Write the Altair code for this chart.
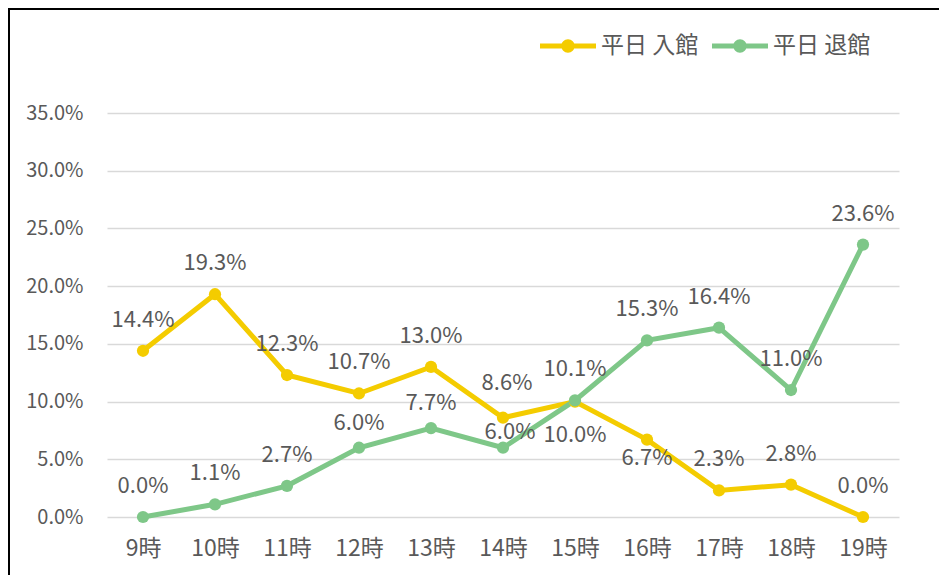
import altair as alt
import pandas as pd

times = ["9時", "10時", "11時", "12時", "13時", "14時", "15時", "16時", "17時", "18時", "19時"]
series_names = ["平日 入館", "平日 退館"]
entry = [0.144, 0.193, 0.123, 0.107, 0.130, 0.086, 0.100, 0.067, 0.023, 0.028, 0.000]
leave = [0.000, 0.011, 0.027, 0.060, 0.077, 0.060, 0.101, 0.153, 0.164, 0.110, 0.236]
y_ticks = [0, 0.05, 0.10, 0.15, 0.20, 0.25, 0.30, 0.35]

colors = ["#F4CC00", "#7EC788"]
FONT = "Noto Sans CJK JP"
TXT = "#595959"

# label placement (style): default above point, a few exceptions
label_dy_default = -31
label_dy = {("平日 入館", "14時"): -35, ("平日 入館", "15時"): 33, ("平日 入館", "16時"): 18,
            ("平日 退館", "12時"): -25, ("平日 退館", "13時"): -25, ("平日 退館", "14時"): -16}
label_dx = {("平日 退館", "14時"): 7, ("平日 入館", "14時"): 4}

rows = []
for s, vals in zip(series_names, [entry, leave]):
    for t, v in zip(times, vals):
        rows.append({"time": t, "series": s, "value": v,
                     "grp": f"{label_dy.get((s, t), label_dy_default)}_{label_dx.get((s, t), 0)}"})
df = pd.DataFrame(rows)

W, H = 792, 404

x_enc = alt.X("time:N", sort=times, scale=alt.Scale(type="point", padding=0.5),
              axis=alt.Axis(title=None, ticks=False, tickSize=0, domain=False, grid=False,
                            labelPadding=31, labelBaseline="middle", labelAngle=0,
                            labelFontSize=23, labelColor=TXT, labelFont=FONT))
y_enc = alt.Y("value:Q", scale=alt.Scale(domain=[0, 0.35], nice=False),
              axis=alt.Axis(title=None, values=y_ticks, format=".1%", ticks=False, tickSize=0,
                            domain=False, labelPadding=24, labelFontSize=20, labelColor=TXT,
                            labelFont=FONT, gridColor="#D9D9D9", gridWidth=1.5))
color_scale = alt.Scale(domain=series_names, range=colors)

sym_path = ("M-1,-0.09H1V0.09H-1Z "
            "M0.24,0A0.24,0.24 0 1,1 -0.24,0A0.24,0.24 0 1,1 0.24,0Z")

line_layers = [
    alt.Chart(df).transform_filter(alt.datum.series == s)
    .mark_line(strokeWidth=5, color=c).encode(x=x_enc, y=y_enc)
    for s, c in zip(series_names, colors)
]
points = alt.Chart(df).mark_circle(size=150, opacity=1).encode(
    x=x_enc, y=y_enc,
    color=alt.Color("series:N", scale=color_scale,
                    legend=alt.Legend(title=None, orient="none", direction="horizontal",
                                      legendX=433, legendY=-95, symbolType=sym_path,
                                      symbolSize=3136, symbolStrokeWidth=0, symbolOpacity=1,
                                      labelFontSize=23, labelColor=TXT, labelFont=FONT,
                                      labelOffset=5, columnPadding=13)),
)

label_layers = []
for g in sorted(df["grp"].unique()):
    dy, dx = [int(p) for p in g.split("_")]
    label_layers.append(
        alt.Chart(df).transform_filter(alt.datum.grp == g)
        .mark_text(fontSize=22, font=FONT, color=TXT, baseline="middle", dy=dy, dx=dx)
        .encode(x=x_enc, y=y_enc, text=alt.Text("value:Q", format=".1%"))
    )

frame_df = pd.DataFrame({"k": [0]})
left_border = alt.Chart(frame_df).mark_rule(color="#000000", strokeWidth=2).encode(
    x=alt.value(-98), y=alt.value(-104), y2=alt.value(462))
top_border = alt.Chart(frame_df).mark_rule(color="#000000", strokeWidth=2).encode(
    x=alt.value(-99), x2=alt.value(840), y=alt.value(-104))

chart = alt.layer(left_border, top_border, *line_layers, points, *label_layers).properties(
    width=W, height=H,
    padding={"left": 99, "top": 105, "right": 40, "bottom": 58},
    autosize=alt.AutoSizeParams(type="none"),
    background="#FFFFFF",
).configure_view(stroke=None)

chart.save("out.html", embed_options={"renderer": "svg", "actions": False})
